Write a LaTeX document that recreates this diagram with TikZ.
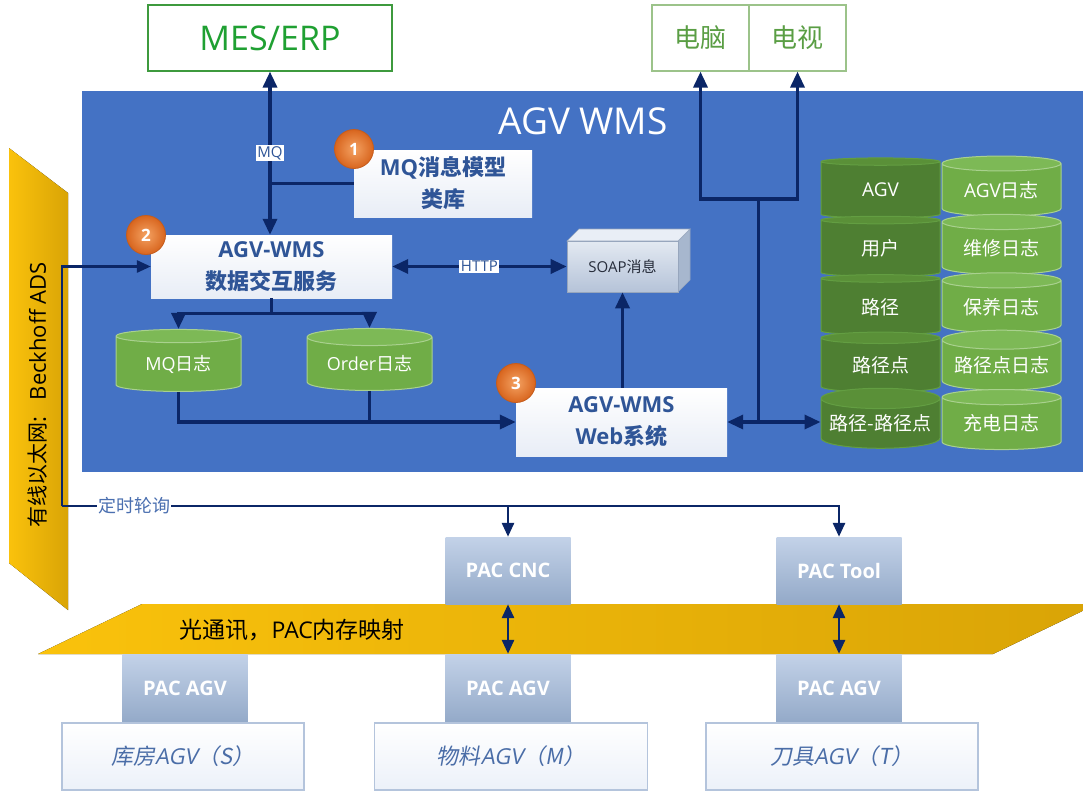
\documentclass[tikz,border=0pt]{standalone}
\usepackage{fontspec}
\setmainfont{Noto Sans CJK SC}
\newfontfamily\latf{Open Sans}
\newfontfamily\slcjk{Noto Sans CJK SC}[FakeSlant=0.18]
\newfontfamily\slatf{Open Sans}[FakeSlant=0.18]
\usetikzlibrary{shapes.geometric,arrows.meta,calc}
\newcommand\fsz[2]{\fontsize{#1}{#2}\selectfont}
\newcommand\Lf[1]{{\latf #1}}
\definecolor{wmsblue}{HTML}{4472C4}
\definecolor{navy}{HTML}{0B2667}
\definecolor{boxblue}{HTML}{2F5597}
\definecolor{boxbot}{HTML}{E8EDF6}
\definecolor{mesgreen}{HTML}{3E9A3E}
\definecolor{mestext}{HTML}{1FA032}
\definecolor{pcedge}{HTML}{9CC38A}
\definecolor{pctext}{HTML}{5A9E44}
\definecolor{barl}{HTML}{FAC20C}
\definecolor{barr}{HTML}{D9A406}
\definecolor{pactop}{HTML}{C3D2E8}
\definecolor{pacbot}{HTML}{93A9C8}
\definecolor{agvedge}{HTML}{B4C4DC}
\definecolor{agvtext}{HTML}{4A6DA7}
\definecolor{polltext}{HTML}{4A6FB0}
\definecolor{dkbody}{HTML}{4E7F32}
\definecolor{dkend}{HTML}{5A9038}
\definecolor{dkedge}{HTML}{639E42}
\definecolor{ltbody}{HTML}{70AD47}
\definecolor{ltend}{HTML}{7DB956}
\definecolor{ltedge}{HTML}{A9D18E}
\definecolor{soapft}{HTML}{E3E9F2}
\definecolor{soapfb}{HTML}{B5C3D8}
\definecolor{soaptop}{HTML}{E9EEF6}
\definecolor{soapside}{HTML}{A7B7CE}
\definecolor{soapedge}{HTML}{97A6BD}
\definecolor{soaptext}{HTML}{262C3A}
\definecolor{numin}{HTML}{F4A262}
\definecolor{numout}{HTML}{D8651E}
\definecolor{numedge}{HTML}{C55C1C}
\begin{document}
\begin{tikzpicture}[x=1pt,y=-1pt,
  navyline/.style={draw=navy, line width=3.4pt},
  arr/.style={navyline, -{Triangle[length=16pt,width=14pt]}},
  darr/.style={navyline, {Triangle[length=16pt,width=14pt]}-{Triangle[length=16pt,width=14pt]}},
  thinarr/.style={draw=navy, line width=2.8pt, -{Triangle[length=14pt,width=12pt]}},
  thindarr/.style={draw=navy, line width=2.8pt, {Triangle[length=14pt,width=12pt]}-{Triangle[length=14pt,width=12pt]}},
  wbox/.style={rectangle, inner sep=0pt, top color=white, bottom color=boxbot, align=center, text=boxblue, font=\bfseries\fsz{22}{32}},
  topbox/.style={rectangle, line width=1.2pt, fill=white, minimum height=66pt},
  lbl/.style={fill=white, inner sep=1.5pt, text=boxblue, font=\latf\fsz{15}{17}},
  cyl/.style={cylinder, shape border rotate=90, aspect=0.2, cylinder uses custom fill, inner sep=0pt, text=white, line width=1pt},
  darkcyl/.style={cyl, cylinder body fill=dkbody, cylinder end fill=dkend, draw=dkedge, minimum width=119pt, minimum height=60pt, font=\fsz{19}{22}},
  lightcyl/.style={cyl, cylinder body fill=ltbody, cylinder end fill=ltend, draw=ltedge},
  num/.style={circle, minimum size=39pt, inner sep=0pt, inner color=numin, outer color=numout, draw=numedge, line width=0.8pt, text=white, font=\latf\bfseries\fsz{17}{20}},
  pacbox/.style={rectangle, inner sep=0pt, top color=pactop, bottom color=pacbot, text=white, font=\latf\bfseries\fsz{20}{24}, minimum width=125pt},
  agvbox/.style={rectangle, inner sep=0pt, draw=agvedge, line width=1.2pt, top color=white, bottom color={rgb,255:red,236;green,241;blue,249}, text=agvtext, font=\fsz{22}{26}, minimum height=67pt}
]
\useasboundingbox (0,0) rectangle (1083,790);

% left Ethernet bar
\fill[left color=barl, right color=barr] (9,148) -- (68,193) -- (68,610) -- (9,563) -- cycle;
\node[rotate=90, font=\fsz{21}{24}, text=black] (eth) at (38,395) {有线以太网{\latf\fsz{22}{24}:\hspace{17pt}Beckhoff ADS}};

% blue WMS area
\fill[wmsblue] (82,91) rectangle (1083,472);
\node[text=white, font=\latf\fsz{37}{42}] (title) at (583,121) {AGV WMS};

% top boxes
\node[topbox, draw=mesgreen, minimum width=244pt, text=mestext, font=\latf\fsz{34}{38}] (mes) at (270,38) {MES/ERP};
\node[topbox, draw=pcedge, minimum width=97pt, text=pctext, font=\fsz{26}{30}] (pc) at (700.5,38) {电脑};
\node[topbox, draw=pcedge, minimum width=97pt, text=pctext, font=\fsz{26}{30}] (tv) at (797.5,38) {电视};

% white boxes
\node[wbox, minimum width=178pt, minimum height=67pt] (mqlib) at (443,183.5) {\Lf{MQ}消息模型\\类库};
\node[wbox, minimum width=241pt, minimum height=63pt] (dsvc) at (271.5,266.5) {\Lf{AGV-WMS}\\数据交互服务};
\node[wbox, minimum width=211pt, minimum height=68pt] (web) at (621.5,422) {\Lf{AGV-WMS}\\\Lf{Web}系统};

% SOAP 3D box
\filldraw[fill=soapside, draw=soapedge, line width=0.6pt] (678,241) -- (690,229) -- (690,280) -- (678,292) -- cycle;
\filldraw[fill=soaptop, draw=soapedge, line width=0.6pt] (567,241) -- (579,229) -- (690,229) -- (678,241) -- cycle;
\node[rectangle, draw=soapedge, line width=0.6pt, minimum width=111pt, minimum height=51pt, top color=soapft, bottom color=soapfb, text=soaptext, font=\fsz{15}{18}] (soap) at (622.5,266.5) {\Lf{SOAP}消息};

% log cylinders
\node[lightcyl, minimum width=125pt, minimum height=62pt, font=\fsz{18}{20}] (mqlog) at (178.5,364) {\Lf{MQ}日志};
\node[lightcyl, minimum width=125pt, minimum height=62pt, font=\fsz{18}{20}] (olog) at (369.5,364) {\Lf{Order}日志};

% database stack
\foreach \i/\a/\b in {1/\Lf{AGV}/\Lf{AGV}日志, 2/用户/维修日志, 3/路径/保养日志, 4/路径点/路径点日志, 5/路径-路径点/充电日志} {
  \node[darkcyl] (dk\i) at (880.5,{190+58.4*(\i-1)}) {\a};
  \node[lightcyl, minimum width=119pt, minimum height=60pt, font=\fsz{19}{22}] (lt\i) at (1001.5,{190+58.4*(\i-1)}) {\b};
}

% optical bus
\fill[left color=barl, right color=barr] (142,604) -- (1097,604) -- (993,654) -- (38,654) -- cycle;
\node[font=\fsz{23}{26}, text=black, anchor=west] (opt) at (176,630) {光通讯，\Lf{PAC}内存映射};

% PAC boxes
\node[pacbox, minimum height=67pt] (pcnc) at (508,570.5) {PAC CNC};
\node[pacbox, minimum height=67pt] (ptool) at (839,570.5) {PAC Tool};
\node[pacbox, minimum height=69pt] (pagv1) at (185,688.5) {PAC AGV};
\node[pacbox, minimum height=69pt] (pagv2) at (508,688.5) {PAC AGV};
\node[pacbox, minimum height=69pt] (pagv3) at (839,688.5) {PAC AGV};

% AGV boxes
\node[agvbox, minimum width=242pt] (kf) at (183,756.5) {{\slcjk 库房}{\slatf AGV}{\slcjk （S）}};
\node[agvbox, minimum width=273pt] (wl) at (511,756.5) {{\slcjk 物料}{\slatf AGV}{\slcjk （M）}};
\node[agvbox, minimum width=272pt] (dj) at (842,756.5) {{\slcjk 刀具}{\slatf AGV}{\slcjk （T）}};

% connectors
\draw[darr] (mes.south) -- node[lbl] (mqlbl) {MQ} (mes.south |- dsvc.north);
\draw[navyline] (mqlib.west) -- (mqlib.west -| mes.south);
\draw[darr] (dsvc.east) -- node[lbl] (httplbl) {HTTP} (soap.west);
\draw[arr] (soap.south |- web.north) -- (soap.south);
\coordinate (sp) at ($(dsvc.south)+(0,15)$);
\draw[navyline] (dsvc.south) -- (sp);
\draw[arr] (sp) -| (mqlog.north);
\draw[arr] (sp) -| (olog.north);
\draw[arr] (mqlog.south) |- (web.west);
\draw[navyline] (olog.south) -- (olog.south |- web.west);
\path (web.east) ++(31,0) coordinate (jn);
\path (jn) ++(0,-223) coordinate (jt);
\draw[darr] (web.east) -- (web.east -| dk5.west);
\draw[navyline] (jn) -- (jt);
\draw[arr] (jt) -| (pc.south);
\draw[arr] (jt) -| (tv.south);

% polling line
\coordinate (lp) at (62,506);
\draw[thinarr] (lp) |- (dsvc.west);
\draw[thinarr] (lp) -| (ptool.north);
\draw[thinarr] (lp -| pcnc.north) -- (pcnc.north);
\node[fill=white, inner sep=1pt, text=polltext, font=\fsz{18}{20}] (poll) at (134,506) {定时轮询};
\draw[thindarr] (pcnc.south) -- (pagv2.north);
\draw[thindarr] (ptool.south) -- (pagv3.north);

% number badges
\node[num] (n1) at (354,149) {1};
\node[num] (n2) at (146,235) {2};
\node[num] (n3) at (516,383) {3};
\end{tikzpicture}
\end{document}
